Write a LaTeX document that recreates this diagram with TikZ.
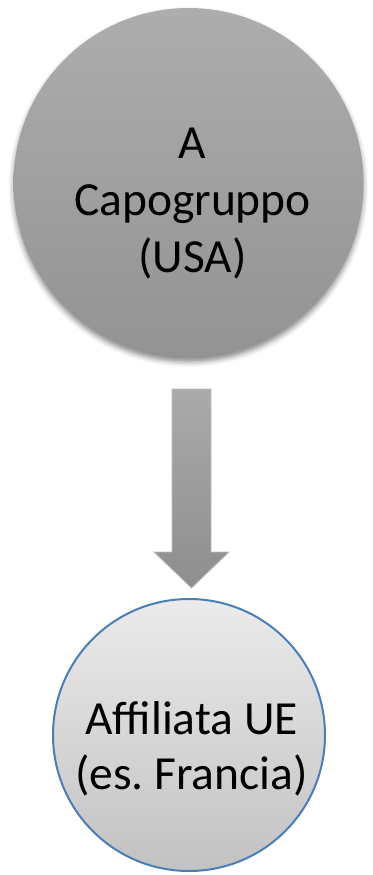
\documentclass[tikz,border=0pt]{standalone}
\usepackage{fontspec}
\setmainfont{Carlito}
\frenchspacing
\usetikzlibrary{shadows.blur}

\definecolor{parentTop}{HTML}{ADADAD}
\definecolor{parentBot}{HTML}{939393}
\definecolor{childTop}{HTML}{EBEBEB}
\definecolor{childBot}{HTML}{C2C2C2}
\definecolor{childRim}{HTML}{4A7EB5}
\definecolor{arrowTop}{HTML}{AAAAAA}
\definecolor{arrowBot}{HTML}{8E8E8E}
\definecolor{arrowRim}{HTML}{BDBDBD}

\tikzset{
  circtext/.style={font=\fontsize{47.5}{57}\selectfont, align=center, text=black, inner sep=0pt},
  parentdisc/.style={circle, inner sep=0pt, minimum size=350pt,
    top color=parentTop, bottom color=parentBot,
    blur shadow={shadow xshift=0pt, shadow yshift=-4pt, shadow blur radius=5pt, shadow opacity=45}},
  childdisc/.style={circle, inner sep=0pt, minimum size=272pt,
    top color=childTop, bottom color=childBot, draw=childRim, line width=2pt},
  blockarrow/.style={top color=arrowTop, bottom color=arrowBot, draw=arrowRim, line width=0.8pt},
}

\begin{document}
\begin{tikzpicture}[x=1pt, y=-1pt]
  \useasboundingbox (0,0) rectangle (372,875);

  % parent company
  \node[parentdisc] (capo) at (188.5,183) {};
  \node[circtext] (capotxt) at ([shift={(4,21)}]capo.center) {A\\Capogruppo\\(USA)};

  % EU subsidiary
  \node[childdisc] (aff) at (189,735) {};
  \node[circtext, font=\fontsize{47.5}{55}\selectfont] (afftxt) at ([shift={(2.5,14)}]aff.center) {Affiliata UE\\(es. Francia)};

  % downward block arrow between the two
  \coordinate (atop) at (191.5,389);
  \coordinate (atip) at (191.5,588);
  \path[blockarrow]
    ([xshift=-19.5pt]atop) -- ([xshift=19.5pt]atop)
    -- ([xshift=19.5pt]atop |- 0,552) -- (229,552)
    -- (atip) -- (154,552)
    -- ([xshift=-19.5pt]atop |- 0,552) -- cycle;
\end{tikzpicture}
\end{document}
